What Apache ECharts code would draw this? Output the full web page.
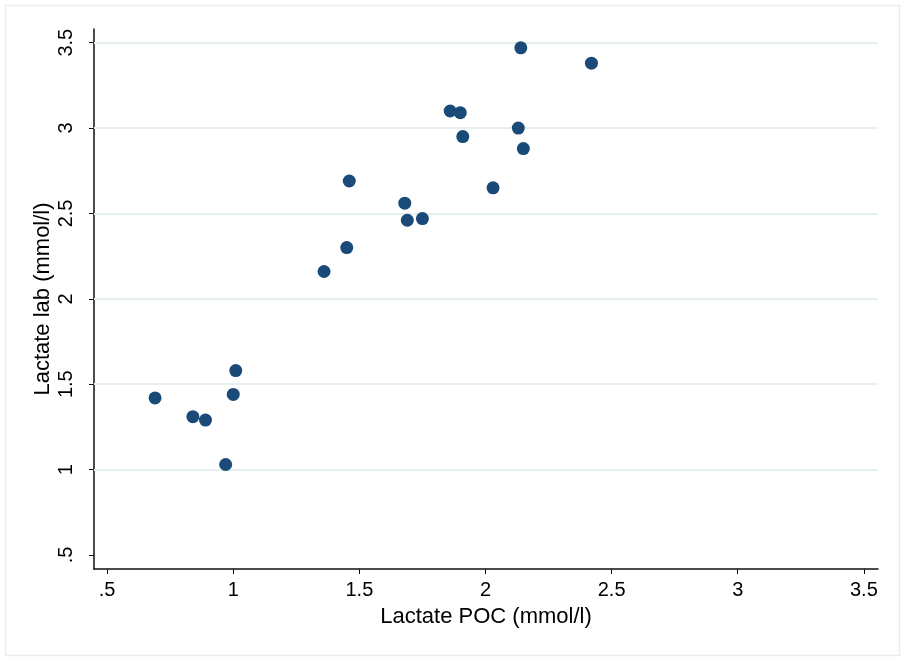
<!DOCTYPE html>
<html>
<head>
<meta charset="utf-8">
<script src="https://cdn.jsdelivr.net/npm/echarts@6/dist/echarts.min.js"></script>
<style>
  html, body { margin: 0; padding: 0; background: #fff; }
  #chart { width: 903px; height: 657px; }
</style>
</head>
<body>
<div id="chart"></div>
<script>
  // Lactate POC (x) vs Lactate lab (y), mmol/l
  const pocValues = [
    0.69, 0.84, 0.89, 0.97, 1.00, 1.01,
    1.36, 1.45, 1.46, 1.68, 1.69, 1.75,
    2.03, 1.86, 1.90, 1.91, 2.14, 2.13, 2.15, 2.42
  ];
  const labValues = [
    1.42, 1.31, 1.29, 1.03, 1.44, 1.58,
    2.16, 2.30, 2.69, 2.56, 2.46, 2.47,
    2.65, 3.10, 3.09, 2.95, 3.47, 3.00, 2.88, 3.38
  ];
  const xTicks = [0.5, 1, 1.5, 2, 2.5, 3, 3.5];
  const yTicks = [0.5, 1, 1.5, 2, 2.5, 3, 3.5];
  const yGridLines = [1, 1.5, 2, 2.5, 3, 3.5];

  const fmt = v => (v === 0.5 ? '.5' : String(v));
  const font = 'Liberation Sans, Arial, sans-serif';

  const chart = echarts.init(document.getElementById('chart'));

  chart.setOption({
    animation: false,
    graphic: [{
      type: 'rect',
      shape: { x: 5.5, y: 5.5, width: 894, height: 650 },
      style: { fill: 'none', stroke: '#e6eef1', lineWidth: 1.5 },
      silent: true
    }],
    grid: { left: 94, right: 25, top: 29, bottom: 88 },
    xAxis: {
      type: 'value',
      min: 0.448,
      max: 3.556,
      name: 'Lactate POC (mmol/l)',
      nameLocation: 'middle',
      nameGap: 37,
      nameTextStyle: { fontFamily: font, fontSize: 22, color: '#000' },
      axisLine: { lineStyle: { color: '#111', width: 1.5 } },
      axisTick: { show: true, length: 5, customValues: xTicks, lineStyle: { color: '#111' } },
      axisLabel: {
        customValues: xTicks,
        formatter: fmt,
        margin: 11,
        fontFamily: font, fontSize: 20, color: '#000'
      },
      splitLine: { show: false }
    },
    yAxis: {
      type: 'value',
      min: 0.418,
      max: 3.58,
      name: 'Lactate lab (mmol/l)',
      nameLocation: 'middle',
      nameGap: 40,
      nameMoveOverlap: false,
      nameTextStyle: { fontFamily: font, fontSize: 22, color: '#000' },
      axisLine: { show: true, lineStyle: { color: '#111', width: 1.5 } },
      axisTick: { show: true, length: 5, customValues: yTicks, lineStyle: { color: '#111' } },
      axisLabel: {
        customValues: yTicks,
        formatter: fmt,
        rotate: 90,
        margin: 18,
        fontFamily: font, fontSize: 20, color: '#000'
      },
      splitLine: { show: false }
    },
    series: [{
      type: 'scatter',
      data: pocValues.map((x, i) => [x, labValues[i]]),
      symbol: 'circle',
      symbolSize: 13,
      itemStyle: { color: '#1a4a78', opacity: 1 },
      z: 3,
      markLine: {
        silent: true,
        symbol: 'none',
        label: { show: false },
        lineStyle: { color: '#e6f0f2', width: 2, type: 'solid' },
        data: yGridLines.map(v => ({ yAxis: v })),
        z: 1
      }
    }]
  });
  window.addEventListener('resize', () => { chart.resize(); });
</script>
</body>
</html>
